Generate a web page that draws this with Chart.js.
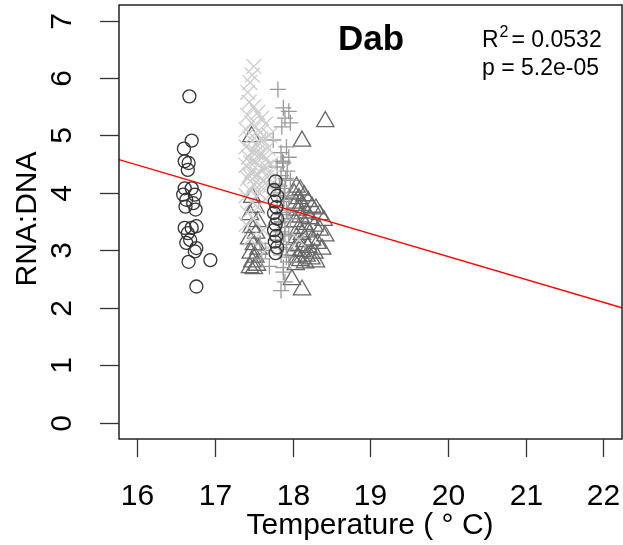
<!DOCTYPE html>
<html>
<head>
<meta charset="utf-8">
<script src="https://cdn.jsdelivr.net/npm/chart.js@4.4.1/dist/chart.umd.min.js"></script>
<style>
  html, body { margin: 0; padding: 0; background: #ffffff; }
  canvas { display: block; }
</style>
</head>
<body>
<canvas id="c" width="623" height="545"></canvas>
<script>
// ---- data ----
const xTicks = [16, 17, 18, 19, 20, 21, 22];
const yTicks = [0, 1, 2, 3, 4, 5, 6, 7];
const titleText = "Dab";
const xTitle = "Temperature ( \u00B0 C)";
const yTitle = "RNA:DNA";
const r2Text = "0.0532";
const pText = "5.2e-05";

// circles (dark)
const circleTemp = [16.67,16.70,16.60,16.61,16.66,16.65,16.61,16.70,16.59,16.74,16.63,16.72,16.75,16.62,16.61,16.70,16.76,16.65,16.68,16.63,16.76,16.74,16.66,16.94,16.76,
  17.78,17.76,17.80,17.77,17.79,17.76,17.80,17.78,17.76,17.79,17.77,17.80,17.78];
const circleVal = [5.68,4.91,4.77,4.55,4.52,4.40,4.08,4.08,3.97,3.97,3.88,3.82,3.71,3.76,3.39,3.39,3.42,3.30,3.18,3.13,3.04,2.98,2.80,2.83,2.37,
  4.20,4.05,3.95,3.85,3.75,3.65,3.55,3.45,3.35,3.25,3.15,3.05,2.95];

// x-crosses (light grey)
const xcrossTemp = [17.50,17.48,17.45,17.42,17.44,17.50,17.55,17.42,17.60,17.47,17.65,17.52,17.40,17.58,17.70,17.45,17.62,17.53,17.40,17.68,17.48,17.58,17.43,17.65,17.52,17.72,17.40,17.60,17.47,17.55,17.67,17.42,17.62,17.50,17.70,17.45,17.57,17.40,17.65,17.48,17.55,17.42,17.50,17.40,17.62,17.45,17.68,18.08,
  17.56,17.63,17.46,17.69,17.51,17.60,17.44,17.66,17.53,17.59];
const xcrossVal = [6.20,6.05,5.92,5.75,5.58,5.50,5.40,5.35,5.30,5.22,5.20,5.15,5.10,5.05,5.00,4.95,4.92,4.85,4.80,4.78,4.72,4.68,4.62,4.58,4.55,4.50,4.48,4.42,4.38,4.32,4.28,4.25,4.20,4.15,4.12,4.05,4.00,3.95,3.90,3.85,3.75,3.65,3.55,3.45,3.35,3.20,3.04,3.18,
  4.88,4.65,4.52,4.36,4.28,4.10,4.30,4.45,4.70,4.95];

// plus signs (mid grey)
const plusTemp = [17.81,17.88,17.95,17.90,17.97,17.86,17.75,17.92,17.85,17.95,17.88,17.80,17.93,17.85,17.97,17.78,17.90,17.84,17.95,17.88,17.80,17.92,17.86,17.97,17.82,17.90,17.85,17.95,17.78,17.88,17.92,17.65,17.85,17.60,17.95,17.70,17.88,17.90,17.85,17.58,
  17.87,17.91,17.83,17.89,17.94,17.86,17.90,17.84,17.92,17.88];
const plusVal = [5.80,5.48,5.42,5.30,5.22,5.15,4.92,4.80,4.70,4.62,4.52,4.45,4.38,4.30,4.22,4.15,4.08,4.00,3.92,3.85,3.78,3.70,3.62,3.55,3.48,3.40,3.32,3.25,3.18,3.10,3.02,3.00,2.92,2.85,2.80,2.72,2.62,2.45,2.30,3.12,
  4.55,4.25,4.12,3.95,3.66,3.50,3.28,3.05,2.88,2.70];

// triangles (dark grey)
const triTemp = [18.42,18.12,17.99,18.12,17.47,
  18.05,18.10,18.02,18.15,18.08,18.20,18.04,18.12,18.25,18.30,18.06,18.18,18.35,18.10,18.22,18.40,18.03,18.15,18.28,18.08,18.35,18.20,18.12,18.42,18.05,18.25,18.15,18.32,18.08,18.20,18.38,18.02,18.12,18.28,18.18,18.06,18.24,18.10,18.30,18.16,18.04,
  17.48,17.52,17.45,17.55,17.47,17.53,17.44,17.50,17.56,17.46,17.52,17.48,17.54,17.45,17.50];
const triVal = [5.24,4.90,2.49,2.31,4.98,
  4.10,4.05,3.98,3.95,3.90,3.85,3.82,3.78,3.75,3.72,3.70,3.65,3.62,3.58,3.55,3.52,3.50,3.45,3.42,3.38,3.35,3.32,3.28,3.25,3.22,3.18,3.15,3.12,3.08,3.05,3.02,3.00,2.98,2.95,2.90,2.88,2.85,2.82,2.80,2.78,2.75,
  3.92,3.75,3.62,3.50,3.40,3.30,3.20,3.10,3.02,2.95,2.88,2.80,2.74,2.70,2.68];

// regression line end points (plot edges)
const fitTemp = [15.764, 22.24];
const fitVal = [4.58, 2.00];

const xRange = [15.764, 22.24];
const yRange = [-0.284, 7.27];

function pts(xs, ys) { return xs.map((x, i) => ({ x: x, y: ys[i] })); }

const FONT = '"Liberation Sans", Arial, Helvetica, sans-serif';

const frame = {
  id: 'frame',
  beforeDraw(chart) {
    const ctx = chart.ctx;
    ctx.save();
    ctx.fillStyle = '#ffffff';
    ctx.fillRect(0, 0, chart.width, chart.height);
    ctx.restore();
  },
  afterDraw(chart) {
    const ctx = chart.ctx;
    const a = chart.chartArea;
    const xs = chart.scales.x, ys = chart.scales.y;
    ctx.save();
    ctx.strokeStyle = '#000000';
    ctx.lineWidth = 1.3;
    ctx.strokeRect(a.left, a.top, a.right - a.left, a.bottom - a.top);
    ctx.strokeStyle = '#333333';
    ctx.fillStyle = '#000000';
    ctx.font = '30px ' + FONT;
    // x ticks
    ctx.textAlign = 'center';
    ctx.textBaseline = 'middle';
    xTicks.forEach(v => {
      const px = Math.round(xs.getPixelForValue(v)) + 0.5;
      ctx.beginPath(); ctx.moveTo(px, a.bottom); ctx.lineTo(px, a.bottom + 18); ctx.stroke();
      ctx.fillText(String(v), px, a.bottom + 58);
    });
    // y ticks
    yTicks.forEach(v => {
      const py = Math.round(ys.getPixelForValue(v)) + 0.5;
      ctx.beginPath(); ctx.moveTo(a.left, py); ctx.lineTo(a.left - 19, py); ctx.stroke();
      ctx.save();
      ctx.translate(a.left - 56, py);
      ctx.rotate(-Math.PI / 2);
      ctx.fillText(String(v), 0, 0);
      ctx.restore();
    });
    // axis titles
    ctx.font = '30px ' + FONT;
    ctx.fillText(xTitle, 370, a.bottom + 87);
    ctx.save();
    ctx.translate(28, 219);
    ctx.rotate(-Math.PI / 2);
    ctx.fillText(yTitle, 0, 0);
    ctx.restore();
    // title
    ctx.font = 'bold 35px ' + FONT;
    ctx.fillText(titleText, 371, 40);
    // stats
    ctx.textAlign = 'left';
    ctx.textBaseline = 'alphabetic';
    ctx.font = '23px ' + FONT;
    let x0 = 482;
    ctx.fillText('R', x0, 47);
    let w = ctx.measureText('R').width;
    ctx.font = '16px ' + FONT;
    ctx.fillText('2', x0 + w + 1, 37);
    let w2 = ctx.measureText('2').width;
    ctx.font = '23px ' + FONT;
    ctx.fillText('= ' + r2Text, x0 + w + w2 + 4, 47);
    ctx.fillText('p = ' + pText, x0, 75);
    ctx.restore();
  }
};

const chart = new Chart(document.getElementById('c'), {
  type: 'scatter',
  data: {
    datasets: [
      { label: 'fit', type: 'line', data: pts(fitTemp, fitVal), borderColor: '#ff0000', borderWidth: 1.3,
        pointRadius: 0, fill: false, order: 0 },
      { label: 'circles', data: pts(circleTemp, circleVal), pointStyle: 'circle', pointRadius: 6.5,
        borderColor: '#333333', backgroundColor: 'rgba(0,0,0,0)', borderWidth: 1.3, order: 1 },
      { label: 'xcross', data: pts(xcrossTemp, xcrossVal), pointStyle: 'crossRot', pointRadius: 10.5,
        borderColor: '#cccccc', backgroundColor: 'rgba(0,0,0,0)', borderWidth: 1.3, order: 2 },
      { label: 'plus', data: pts(plusTemp, plusVal), pointStyle: 'cross', pointRadius: 8,
        borderColor: '#999999', backgroundColor: 'rgba(0,0,0,0)', borderWidth: 1.3, order: 3 },
      { label: 'tri', data: pts(triTemp, triVal), pointStyle: 'triangle', pointRadius: 10,
        borderColor: '#666666', backgroundColor: 'rgba(0,0,0,0)', borderWidth: 1.3, order: 4 }
    ]
  },
  options: {
    responsive: false,
    animation: false,
    devicePixelRatio: 1,
    layout: { autoPadding: false, padding: { left: 119, right: 1, top: 5, bottom: 106 } },
    plugins: { legend: { display: false }, tooltip: { enabled: false }, title: { display: false } },
    scales: {
      x: { type: 'linear', min: xRange[0], max: xRange[1], display: false },
      y: { type: 'linear', min: yRange[0], max: yRange[1], display: false }
    }
  },
  plugins: [frame]
});
</script>
</body>
</html>
